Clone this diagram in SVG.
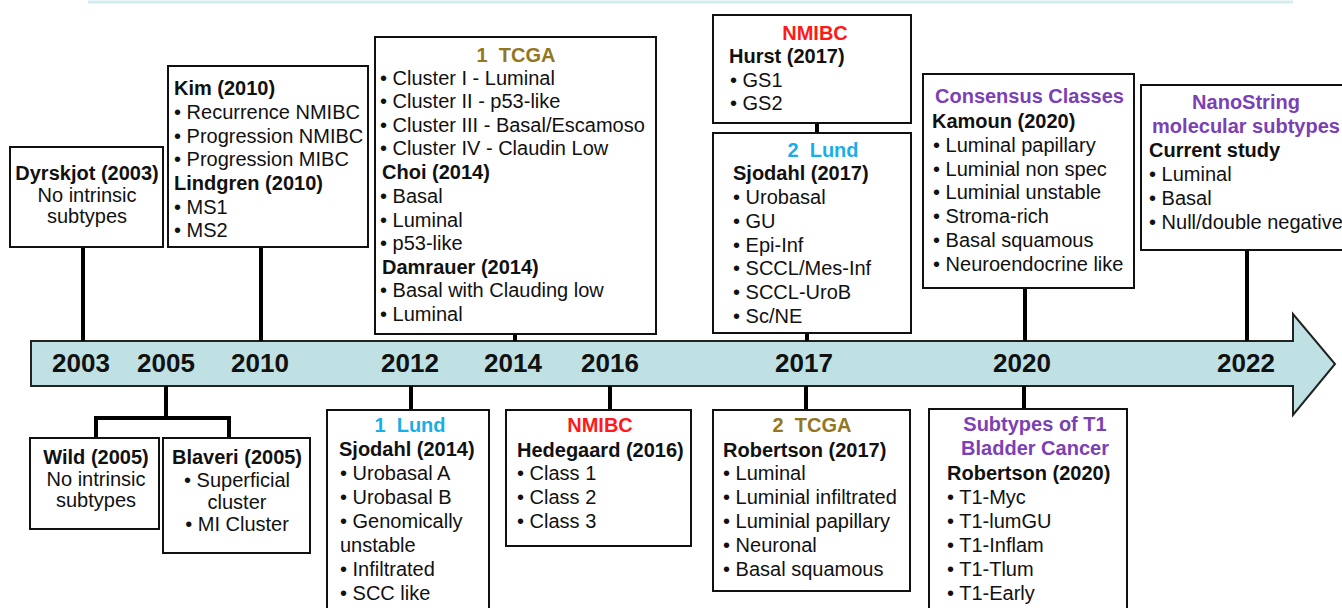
<svg xmlns="http://www.w3.org/2000/svg" width="1342" height="608" viewBox="0 0 1342 608">
<style>
.box{fill:#fff;stroke:#111;stroke-width:2}
.t{font-family:"Liberation Sans",Arial,sans-serif;font-size:20px;fill:#111}
.b{font-weight:bold}
.c{text-anchor:middle}
.yr{font-family:"Liberation Sans",Arial,sans-serif;font-size:26px;font-weight:bold;fill:#111;text-anchor:middle}
.conn{stroke:#000;stroke-width:4;fill:none}
.gold{fill:#94761e}
.red{fill:#ff1a1a}
.cyan{fill:#1aaee8}
.purple{fill:#7c3fb5}
</style>
<line x1="88" y1="2" x2="1293" y2="2" stroke="#d3ecf0" stroke-width="3"/>
<g id="timeline">
<path d="M31,341 H1293 V314 L1335,364 L1293,415 V386 H31 Z" fill="#bfe1e4" stroke="#222" stroke-width="2"/>
<text class="yr" x="81" y="372">2003</text>
<text class="yr" x="166" y="372">2005</text>
<text class="yr" x="260" y="372">2010</text>
<text class="yr" x="410" y="372">2012</text>
<text class="yr" x="513" y="372">2014</text>
<text class="yr" x="610" y="372">2016</text>
<text class="yr" x="804" y="372">2017</text>
<text class="yr" x="1022" y="372">2020</text>
<text class="yr" x="1246" y="372">2022</text>
</g>
<g id="connectors">
<line class="conn" x1="83" y1="247" x2="83" y2="341"/>
<line class="conn" x1="261" y1="247" x2="261" y2="341"/>
<line class="conn" x1="515" y1="334" x2="515" y2="341"/>
<line class="conn" x1="817" y1="123" x2="817" y2="133"/>
<line class="conn" x1="807" y1="333" x2="807" y2="341"/>
<line class="conn" x1="1025" y1="288" x2="1025" y2="341"/>
<line class="conn" x1="1247" y1="250" x2="1247" y2="341"/>
<path class="conn" d="M166,386 V418 M96,438 V418 H229 V438"/>
<line class="conn" x1="411" y1="386" x2="411" y2="410"/>
<line class="conn" x1="610" y1="386" x2="610" y2="410"/>
<line class="conn" x1="806" y1="386" x2="806" y2="410"/>
<line class="conn" x1="1024" y1="386" x2="1024" y2="409"/>
</g>
<g id="dyrskjot">
<rect class="box" x="10" y="147" width="153" height="100"/>
<text class="t b c" x="87" y="180">Dyrskjot (2003)</text>
<text class="t c" x="87" y="202">No intrinsic</text>
<text class="t c" x="87" y="223">subtypes</text>
</g>
<g id="kim">
<rect class="box" x="168" y="66" width="200" height="181"/>
<text class="t b" x="174" y="95">Kim (2010)</text>
<text class="t" x="174" y="119">• Recurrence NMIBC</text>
<text class="t" x="174" y="143">• Progression NMIBC</text>
<text class="t" x="174" y="166">• Progression MIBC</text>
<text class="t b" x="174" y="190">Lindgren (2010)</text>
<text class="t" x="174" y="214">• MS1</text>
<text class="t" x="174" y="237">• MS2</text>
</g>
<g id="tcga1">
<rect class="box" x="375" y="37" width="281" height="297"/>
<text class="t b c gold" x="516" y="62">1&#160;&#160;TCGA</text>
<text class="t" x="380" y="85">• Cluster I - Luminal</text>
<text class="t" x="380" y="108">• Cluster II - p53-like</text>
<text class="t" x="380" y="132">• Cluster III - Basal/Escamoso</text>
<text class="t" x="380" y="155">• Cluster IV - Claudin Low</text>
<text class="t b" x="382" y="179">Choi (2014)</text>
<text class="t" x="380" y="203">• Basal</text>
<text class="t" x="380" y="227">• Luminal</text>
<text class="t" x="380" y="250">• p53-like</text>
<text class="t b" x="382" y="274">Damrauer (2014)</text>
<text class="t" x="380" y="297">• Basal with Clauding low</text>
<text class="t" x="380" y="321">• Luminal</text>
</g>
<g id="hurst">
<rect class="box" x="713" y="15" width="198" height="108"/>
<text class="t b c red" x="815" y="40">NMIBC</text>
<text class="t b" x="729" y="63">Hurst (2017)</text>
<text class="t" x="730" y="87">• GS1</text>
<text class="t" x="730" y="110">• GS2</text>
</g>
<g id="lund2">
<rect class="box" x="713" y="133" width="198" height="200"/>
<text class="t b c cyan" x="823" y="157">2&#160;&#160;Lund</text>
<text class="t b" x="733" y="180">Sjodahl (2017)</text>
<text class="t" x="733" y="204">• Urobasal</text>
<text class="t" x="733" y="228">• GU</text>
<text class="t" x="733" y="252">• Epi-Inf</text>
<text class="t" x="733" y="275">• SCCL/Mes-Inf</text>
<text class="t" x="733" y="299">• SCCL-UroB</text>
<text class="t" x="733" y="323">• Sc/NE</text>
</g>
<g id="kamoun">
<rect class="box" x="923" y="74" width="211" height="214"/>
<text class="t b purple" x="935" y="103">Consensus Classes</text>
<text class="t b" x="932" y="128">Kamoun (2020)</text>
<text class="t" x="933" y="152">• Luminal papillary</text>
<text class="t" x="933" y="176">• Luminial non spec</text>
<text class="t" x="933" y="199">• Luminial unstable</text>
<text class="t" x="933" y="223">• Stroma-rich</text>
<text class="t" x="933" y="247">• Basal squamous</text>
<text class="t" x="933" y="271">• Neuroendocrine like</text>
</g>
<g id="nanostring">
<rect class="box" x="1141" y="85" width="220" height="165"/>
<text class="t b c purple" x="1246" y="109">NanoString</text>
<text class="t b c purple" x="1246" y="133">molecular subtypes</text>
<text class="t b" x="1149" y="157">Current study</text>
<text class="t" x="1149" y="181">• Luminal</text>
<text class="t" x="1149" y="205">• Basal</text>
<text class="t" x="1149" y="229">• Null/double negative</text>
</g>
<g id="wild">
<rect class="box" x="30" y="438" width="129" height="91"/>
<text class="t b c" x="96" y="464">Wild (2005)</text>
<text class="t c" x="96" y="486">No intrinsic</text>
<text class="t c" x="96" y="507">subtypes</text>
</g>
<g id="blaveri">
<rect class="box" x="163" y="438" width="147" height="115"/>
<text class="t b c" x="237" y="464">Blaveri (2005)</text>
<text class="t c" x="237" y="487">• Superficial</text>
<text class="t c" x="237" y="509">cluster</text>
<text class="t c" x="237" y="531">• MI Cluster</text>
</g>
<g id="lund1">
<rect class="box" x="327" y="410" width="162" height="210"/>
<text class="t b c cyan" x="410" y="432">1&#160;&#160;Lund</text>
<text class="t b" x="339" y="456">Sjodahl (2014)</text>
<text class="t" x="340" y="480">• Urobasal A</text>
<text class="t" x="340" y="504">• Urobasal B</text>
<text class="t" x="340" y="528">• Genomically</text>
<text class="t" x="340" y="552">unstable</text>
<text class="t" x="340" y="576">• Infiltrated</text>
<text class="t" x="340" y="600">• SCC like</text>
</g>
<g id="hedegaard">
<rect class="box" x="506" y="410" width="185" height="136"/>
<text class="t b c red" x="600" y="432">NMIBC</text>
<text class="t b" x="517" y="457">Hedegaard (2016)</text>
<text class="t" x="517" y="480">• Class 1</text>
<text class="t" x="517" y="504">• Class 2</text>
<text class="t" x="517" y="528">• Class 3</text>
</g>
<g id="robertson2017">
<rect class="box" x="713" y="410" width="197" height="181"/>
<text class="t b c gold" x="812" y="432">2&#160;&#160;TCGA</text>
<text class="t b" x="723" y="457">Robertson (2017)</text>
<text class="t" x="723" y="480">• Luminal</text>
<text class="t" x="723" y="504">• Luminial infiltrated</text>
<text class="t" x="723" y="528">• Luminial papillary</text>
<text class="t" x="723" y="552">• Neuronal</text>
<text class="t" x="723" y="576">• Basal squamous</text>
</g>
<g id="robertson2020">
<rect class="box" x="929" y="409" width="198" height="211"/>
<text class="t b c purple" x="1035" y="431">Subtypes of T1</text>
<text class="t b c purple" x="1035" y="455">Bladder Cancer</text>
<text class="t b" x="947" y="480">Robertson (2020)</text>
<text class="t" x="947" y="504">• T1-Myc</text>
<text class="t" x="947" y="528">• T1-lumGU</text>
<text class="t" x="947" y="552">• T1-Inflam</text>
<text class="t" x="947" y="576">• T1-Tlum</text>
<text class="t" x="947" y="600">• T1-Early</text>
</g>
</svg>
